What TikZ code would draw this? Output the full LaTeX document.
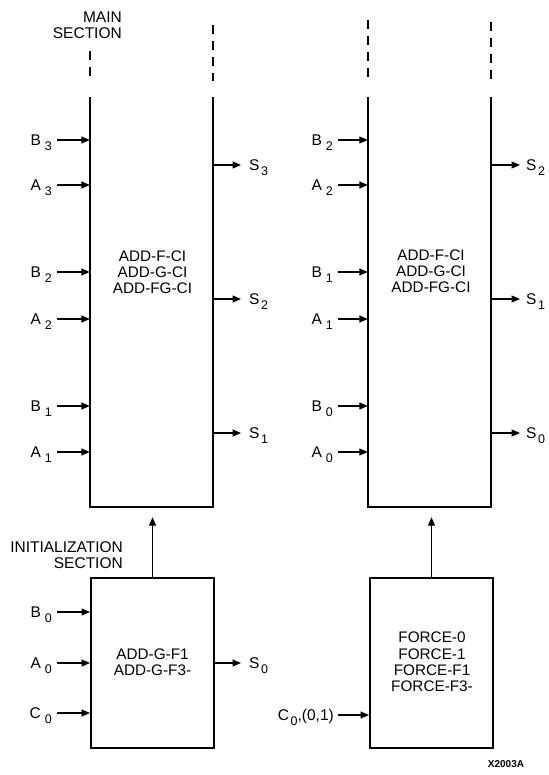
\documentclass[tikz,border=0pt]{standalone}
\usepackage{fontspec}
\setmainfont{Liberation Sans}
\usetikzlibrary{arrows.meta}
\newcommand{\sig}[2]{#1\hspace{4pt}\raisebox{-5pt}{\fontsize{12.5}{12.5}\selectfont #2}}
\newcommand{\sigS}[2]{#1\hspace{1.5pt}\raisebox{-5pt}{\fontsize{12.5}{12.5}\selectfont #2}}
\tikzset{
  boxline/.style={line width=2pt},
  arr/.style={line width=1.2pt,-{Triangle[length=8.5pt,width=7pt]}},
  lbl/.style={font=\fontsize{15.5}{15.5}\selectfont, inner sep=0pt},
  txt/.style={font=\fontsize{15.3}{16.2}\selectfont, align=center, inner sep=0pt},
  dashline/.style={line width=2pt, dash pattern=on 9pt off 7pt},
}
\begin{document}
\begin{tikzpicture}[x=1pt,y=-1pt]
\useasboundingbox (0,0) rectangle (548,775);
% main boxes (open top)
\node[minimum width=123pt, minimum height=410pt, inner sep=0pt] (m1) at (151.5,302) {};
\node[minimum width=123pt, minimum height=410pt, inner sep=0pt] (m2) at (429.5,302) {};
\draw[boxline] (m1.north west) -- (m1.south west) -- (m1.south east) -- (m1.north east);
\draw[boxline] (m2.north west) -- (m2.south west) -- (m2.south east) -- (m2.north east);
% dashed continuations
\coordinate (d1a) at (90,51); \coordinate (d1b) at (213,25);
\coordinate (d2a) at (368,20); \coordinate (d2b) at (491,22);
\draw[dashline] (d1a) -- (d1a |- 0,80);
\draw[dashline] (d1b) -- (d1b |- 0,81);
\draw[dashline] (d2a) -- (d2a |- 0,81);
\draw[dashline] (d2b) -- (d2b |- 0,82);
% section labels
\node[lbl, align=right, anchor=east] (mainlbl) at (122,25.5) {MAIN\\[0.5pt]SECTION};
\node[lbl, align=right, anchor=east] (initlbl) at (123,555) {INITIALIZATION\\[0.5pt]SECTION};
% main box texts
\node[txt] (t1) at (152.5,272) {ADD-F-CI\\ADD-G-CI\\ADD-FG-CI};
\node[txt] (t2) at (431,271) {ADD-F-CI\\ADD-G-CI\\ADD-FG-CI};
% init boxes
\node[boxline, draw, minimum width=123pt, minimum height=170pt, inner sep=0pt] (i1) at (152.5,663) {};
\node[boxline, draw, minimum width=123pt, minimum height=170pt, inner sep=0pt] (i2) at (431.5,663) {};
\node[txt] (t3) at (152.5,662.5) {ADD-G-F1\\ADD-G-F3-};
\node[txt] (t4) at (432,662) {FORCE-0\\FORCE-1\\FORCE-F1\\FORCE-F3-};
% up arrows
\draw[arr, shorten >=10pt] (i1.north) -- (i1.north |- m1.south);
\draw[arr, shorten >=10pt] (i2.north) -- (i2.north |- m2.south);
% left main inputs
\foreach \n/\s/\y in {b3/\sig{B}{3}/140, a3/\sig{A}{3}/185, b2/\sig{B}{2}/272, a2/\sig{A}{2}/319, b1/\sig{B}{1}/406, a1/\sig{A}{1}/452}{
  \node[lbl, anchor=base east] (\n) at (52,\y+5.5) {\s};
  \coordinate (\n s) at (57,\y);
  \draw[arr] (\n s) -- (\n s -| m1.west);
}
\foreach \n/\s/\y in {rb2/\sig{B}{2}/140, ra2/\sig{A}{2}/185, rb1/\sig{B}{1}/272, ra1/\sig{A}{1}/319, rb0/\sig{B}{0}/406, ra0/\sig{A}{0}/452}{
  \node[lbl, anchor=base east] (\n) at (333,\y+5.5) {\s};
  \coordinate (\n s) at (338,\y);
  \draw[arr] (\n s) -- (\n s -| m2.west);
}
% outputs left main
\foreach \n/\s/\y in {s3/\sigS{S}{3}/165, s2/\sigS{S}{2}/299, s1/\sigS{S}{1}/433}{
  \coordinate (\n s) at (213,\y);
  \coordinate (\n e) at (241,\y);
  \node[lbl, anchor=base west] (\n) at (249,\y+5.5) {\s};
  \draw[arr] (\n s -| m1.east) -- (\n e);
}
\foreach \n/\s/\y in {rs2/\sigS{S}{2}/165, rs1/\sigS{S}{1}/299, rs0/\sigS{S}{0}/433}{
  \coordinate (\n s) at (491,\y);
  \coordinate (\n e) at (520,\y);
  \node[lbl, anchor=base west] (\n) at (526,\y+5.5) {\s};
  \draw[arr] (\n s -| m2.east) -- (\n e);
}
% init inputs
\foreach \n/\s/\y in {b0/\sig{B}{0}/612, a0/\sig{A}{0}/663, c0/\sig{C}{0}/713}{
  \node[lbl, anchor=base east] (\n) at (52,\y+5.5) {\s};
  \coordinate (\n s) at (57,\y);
  \draw[arr] (\n s) -- (\n s -| i1.west);
}
\coordinate (s0s) at (214,663);
\coordinate (s0e) at (241,663);
\node[lbl, anchor=base west] (s0) at (249,668.5) {\sigS{S}{0}};
\draw[arr] (s0s -| i1.east) -- (s0e);
\node[lbl, anchor=base east] (c01) at (334,720.5) {C\hspace{1.5pt}\raisebox{-5pt}{\fontsize{12.5}{12.5}\selectfont 0},(0,1)};
\coordinate (c01s) at (338,715);
\draw[arr] (c01s) -- (c01s -| i2.west);
% figure id
\node[font=\bfseries\fontsize{10}{10}\selectfont, inner sep=0pt] (fid) at (506,764.5) {X2003A};
\end{tikzpicture}
\end{document}
